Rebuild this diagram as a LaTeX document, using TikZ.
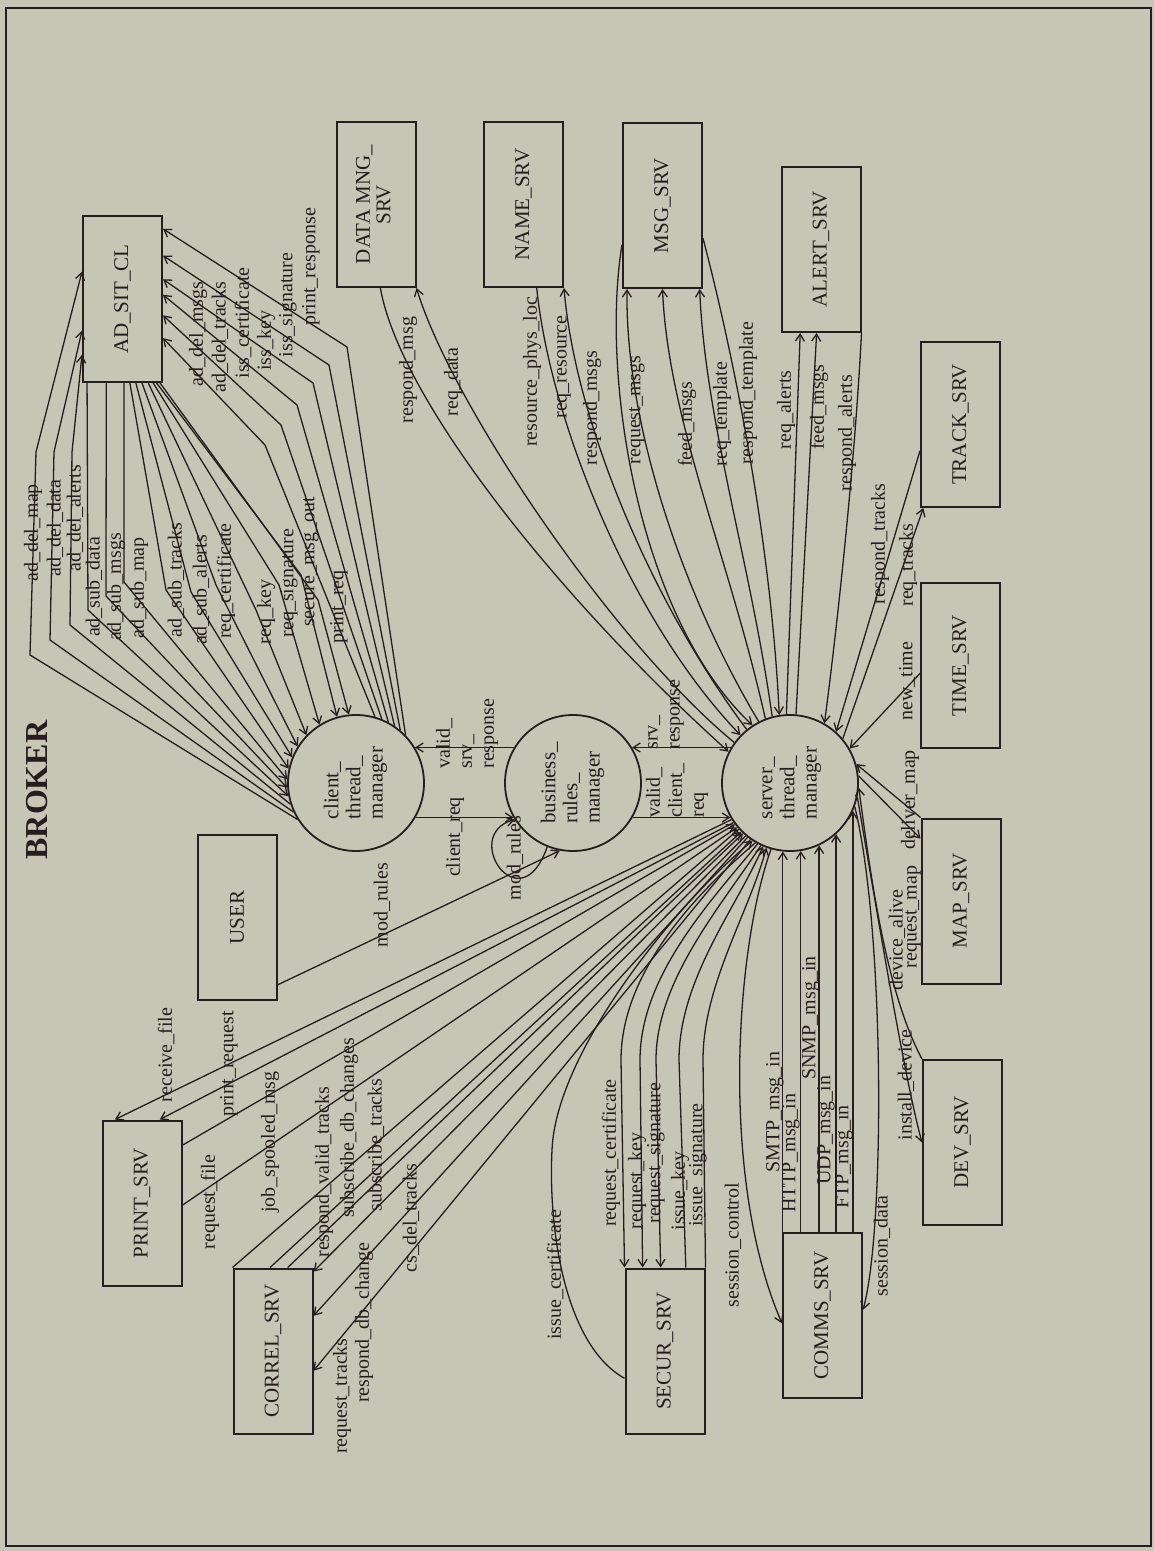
\documentclass[tikz,border=0pt]{standalone}
\usepackage{fontspec}
\setmainfont{Liberation Serif}
\usepackage{graphicx}
\usetikzlibrary{arrows.meta}

\definecolor{paper}{RGB}{199,197,182}
\definecolor{ink}{RGB}{38,30,30}

\newcommand{\vtxt}[1]{\rotatebox{90}{#1}}
\newcommand{\vtab}[2]{\rotatebox{90}{\def\arraystretch{0.85}\begin{tabular}{@{}#1@{}}#2\end{tabular}}}

\tikzset{
  box/.style={draw=ink, line width=1pt, minimum width=39.5pt, minimum height=82.5pt, inner sep=0pt, text=ink, font=\fontsize{10.5}{12}\selectfont},
  proc/.style={circle, draw=ink, line width=0.9pt, minimum size=68pt, inner sep=0pt, text=ink, font=\fontsize{10.5}{13}\selectfont},
  flow/.style={draw=ink, line width=0.65pt, -{Straight Barb[length=3.5pt,width=4.5pt]}},
  lab/.style={rotate=90, inner sep=0pt, text=ink, font=\fontsize{10}{11}\selectfont},
}

\begin{document}
\begin{tikzpicture}[x=0.5pt,y=-0.5pt]

	\fill[paper] (0,0) rectangle (1154,1551);
	\useasboundingbox (0,0) rectangle (1154,1551);
	\draw[ink, line width=0.9pt] (6,8) rectangle (1151,1546);

	\node[rotate=90, text=ink, font=\fontsize{16}{18}\selectfont\bfseries] (title) at (37,790) {BROKER};

	\node[box] (adsit) at (122.5,299) {\vtxt{AD\_SIT\_CL}};
	\node[box] (datamng) at (376,204.5) {\vtab{c}{DATA MNG\_\\SRV}};
	\node[box] (namesrv) at (523.5,204.5) {\vtxt{NAME\_SRV}};
	\node[box] (msgsrv) at (662.5,205.5) {\vtxt{MSG\_SRV}};
	\node[box] (alertsrv) at (821,249.5) {\vtxt{ALERT\_SRV}};
	\node[box] (tracksrv) at (960.5,424.5) {\vtxt{TRACK\_SRV}};
	\node[box] (timesrv) at (960.5,665.5) {\vtxt{TIME\_SRV}};
	\node[box] (mapsrv) at (961,901) {\vtxt{MAP\_SRV}};
	\node[box] (devsrv) at (962.5,1142.5) {\vtxt{DEV\_SRV}};
	\node[box] (commssrv) at (822.5,1315.5) {\vtxt{COMMS\_SRV}};
	\node[box] (secursrv) at (665,1351) {\vtxt{SECUR\_SRV}};
	\node[box] (correlsrv) at (273,1351) {\vtxt{CORREL\_SRV}};
	\node[box] (printsrv) at (142,1203) {\vtxt{PRINT\_SRV}};
	\node[box] (user) at (237,917.5) {\vtxt{USER}};

	\node[proc] (cl) at (356,783) {\vtab{l}{client\_\\thread\_\\manager}};
	\node[proc] (brm) at (573,783) {\vtab{l}{business\_\\rules\_\\manager}};
	\node[proc] (sv) at (790,783) {\vtab{l}{server\_\\thread\_\\manager}};

	\draw[flow] (cl.-30) -- (brm.-150);
	\draw[flow] (brm.149) -- (cl.31);
	\draw[flow] (brm.-30) -- (sv.-150);
	\draw[flow] (sv.149) -- (brm.31);
	\draw[flow] (user.-59) -- (brm.-101);
	\draw[flow] (brm.-112) .. controls (520,925) and (460,835) .. (brm.-148);

	\node[lab] (l-creq) at (455,837) {client\_req};
	\node[lab, align=left, anchor=west] (l-vsr) at (467,769) {valid\_\\srv\_\\response};
	\node[lab, align=left, anchor=west] (l-vcr) at (677,818) {valid\_\\client\_\\req};
	\node[lab, align=left, anchor=west] (l-sr) at (666,750) {srv\_\\response};
	\node[lab] (l-mod) at (382,905) {mod\_rules};
	\node[lab] (l-modloop) at (515,858) {mod\_rules};

	\draw[flow] (cl.212) -- (30,655) -- (36,452) -- (adsit.146);
	\draw[flow] (cl.205) -- (50,640) -- (54,452) -- (adsit.218);
	\draw[flow] (cl.198) -- (70,625) -- (72,452) -- (adsit.234);
	\draw[flow] (adsit.-113) -- (88,610) -- (cl.191);
	\draw[flow] (adsit.-101) -- (106,596) -- (cl.184);
	\draw[flow] (adsit.-89) -- (124,582) -- (cl.177);
	\draw[flow] (adsit.-85) -- (166,590) -- (cl.168);
	\draw[flow] (adsit.-81) -- (191,592) -- (cl.158);
	\draw[flow] (adsit.-77) -- (216,585) -- (cl.148);
	\draw[flow] (adsit.-73) -- (256,610) -- (cl.136);
	\draw[flow] (adsit.-70) -- (279,585) -- (cl.122);
	\draw[flow] (adsit.-68) -- (301,575) -- (cl.106);
	\draw[flow] (adsit.-66) -- (318,600) -- (cl.96);

	\draw[flow] (cl.74) -- (265,445) -- (adsit.-44);
	\draw[flow] (cl.68) -- (281,425) -- (adsit.-22);
	\draw[flow] (cl.62) -- (297,405) -- (adsit.6);
	\draw[flow] (cl.56) -- (313,383) -- (adsit.26);
	\draw[flow] (cl.50) -- (329,365) -- (adsit.47);
	\draw[flow] (cl.44) -- (347,347) -- (adsit.60);

	\node[lab] (l-adm) at (33,533) {ad\_del\_map};
	\node[lab] (l-add) at (55,528) {ad\_del\_data};
	\node[lab] (l-ada) at (75,518) {ad\_del\_alerts};
	\node[lab] (l-asd) at (94,587) {ad\_sub\_data};
	\node[lab] (l-asm) at (116,587) {ad\_sub\_msgs};
	\node[lab] (l-asp) at (139,588) {ad\_sub\_map};
	\node[lab] (l-ast) at (176,580) {ad\_sub\_tracks};
	\node[lab] (l-asa) at (201,590) {ad\_sub\_alerts};
	\node[lab] (l-rc) at (226,581) {req\_certificate};
	\node[lab] (l-rk) at (266,612) {req\_key};
	\node[lab] (l-rs) at (289,583) {req\_signature};
	\node[lab] (l-smo) at (311,562) {secure\_msg\_out};
	\node[lab] (l-pr) at (339,607) {print\_req};
	\node[lab] (l-adms) at (198,334) {ad\_del\_msgs};
	\node[lab] (l-adt) at (220,337) {ad\_del\_tracks};
	\node[lab] (l-ic) at (243,323) {iss\_certificate};
	\node[lab] (l-ik) at (266,341) {iss\_key};
	\node[lab] (l-is) at (288,305) {iss\_signature};
	\node[lab] (l-prs) at (311,267) {print\_response};

	\draw[flow] (datamng.-87) .. controls (400,400) and (560,600) .. (sv.153);
	\draw[flow] (sv.144) .. controls (610,640) and (450,400) .. (datamng.south east);
	\draw[flow] (namesrv.-81) .. controls (550,420) and (630,620) .. (sv.136);
	\draw[flow] (sv.129) .. controls (650,600) and (575,420) .. (namesrv.south east);
	\draw[flow] (msgsrv.224) .. controls (600,380) and (640,620) .. (sv.123);
	\draw[flow] (sv.117) .. controls (680,590) and (625,420) .. (msgsrv.-113);
	\draw[flow] (sv.111) .. controls (730,560) and (668,420) .. (msgsrv.-90);
	\draw[flow] (sv.105) .. controls (750,560) and (705,420) .. (msgsrv.-66);
	\draw[flow] (msgsrv.-39) .. controls (740,380) and (772,560) .. (sv.99);
	\draw[flow] (sv.93) -- (alertsrv.-104);
	\draw[flow] (sv.85) -- (alertsrv.-93);
	\draw[flow] (alertsrv.south east) .. controls (855,460) and (838,620) .. (sv.60);
	\draw[flow] (tracksrv.213) -- (sv.48);
	\draw[flow] (sv.40) -- (tracksrv.-114);
	\draw[flow] (timesrv.191) -- (sv.30);
	\draw[flow] (mapsrv.north west) -- (sv.16);
	\draw[flow] (sv.6) -- (mapsrv.123);
	\draw[flow] (devsrv.north west) .. controls (885,990) and (870,870) .. (sv.-4);
	\draw[flow] (sv.-12) .. controls (880,930) and (905,1080) .. (devsrv.180);

	\node[lab] (l-rm) at (408,370) {respond\_msg};
	\node[lab] (l-rd) at (453,382) {req\_data};
	\node[lab] (l-rpl) at (532,372) {resource\_phys\_loc};
	\node[lab] (l-rr) at (564,367) {req\_resource};
	\node[lab] (l-rms) at (592,408) {respond\_msgs};
	\node[lab] (l-qm) at (637,410) {request\_msgs};
	\node[lab] (l-fm) at (687,424) {feed\_msgs};
	\node[lab] (l-rt) at (722,414) {req\_template};
	\node[lab] (l-rst) at (748,393) {respond\_template};
	\node[lab] (l-ra) at (786,410) {req\_alerts};
	\node[lab] (l-fm2) at (819,407) {feed\_msgs};
	\node[lab] (l-rsa) at (847,433) {respond\_alerts};
	\node[lab] (l-rtr) at (880,544) {respond\_tracks};
	\node[lab] (l-qtr) at (908,565) {req\_tracks};
	\node[lab] (l-nt) at (907,681) {new\_time};
	\node[lab] (l-dm) at (910,800) {deliver\_map};
	\node[lab] (l-qmap) at (913,917) {request\_map};
	\node[lab] (l-da) at (897,940) {device\_alive};
	\node[lab] (l-id) at (906,1085) {install\_device};

	\draw[flow] (sv.264 |- commssrv.north) -- (sv.264);
	\draw[flow] (sv.-81.5 |- commssrv.north) -- (sv.-81.5);
	\draw[flow] (sv.-65.7 |- commssrv.north) -- (sv.-65.7);
	\draw[flow] (sv.-48.6 |- commssrv.north) -- (sv.-48.6);
	\draw[flow] (sv.-24.3 |- commssrv.north) -- (sv.-24.3);
	\draw[flow] (sv.-106) .. controls (735,950) and (720,1180) .. (commssrv.191);
	\draw[flow] (sv.-20) .. controls (885,930) and (885,1230) .. (commssrv.8);

	\node[lab] (l-smtp) at (775,1112) {SMTP\_msg\_in};
	\node[lab] (l-http) at (791,1153) {HTTP\_msg\_in};
	\node[lab] (l-snmp) at (811,1018) {SNMP\_msg\_in};
	\node[lab] (l-udp) at (826,1130) {UDP\_msg\_in};
	\node[lab] (l-ftp) at (844,1157) {FTP\_msg\_in};
	\node[lab] (l-sc) at (733,1245) {session\_control};
	\node[lab] (l-sd) at (882,1246) {session\_data};

	\draw[flow] (secursrv.214) .. controls (565,1345) and (548,1230) .. (552,1150) .. controls (556,1050) and (680,900) .. (sv.-123);
	\draw[flow] (sv.-120.5) .. controls (700,890) and (621,970) .. (621,1060) -- (secursrv.north west);
	\draw[flow] (sv.-118) .. controls (712,900) and (640,975) .. (640,1060) -- (secursrv.105);
	\draw[flow] (sv.-115.5) .. controls (722,905) and (656,980) .. (656,1060) -- (secursrv.93);
	\draw[flow] (secursrv.76) -- (679,1060) .. controls (679,980) and (735,910) .. (sv.-113);
	\draw[flow] (secursrv.north east) -- (703,1060) .. controls (703,985) and (748,915) .. (sv.-110.5);

	\node[lab] (l-isc) at (555,1275) {issue\_certificate};
	\node[lab] (l-qc) at (611,1153) {request\_certificate};
	\node[lab] (l-qk) at (637,1181) {request\_key};
	\node[lab] (l-qs) at (656,1153) {request\_signature};
	\node[lab] (l-isk) at (680,1191) {issue\_key};
	\node[lab] (l-iss) at (698,1165) {issue\_signature};

	\draw[flow] (correlsrv.north west) -- (sv.-138);
	\draw[flow] (correlsrv.92) -- (sv.-135.5);
	\draw[flow] (correlsrv.80) -- (sv.-133);
	\draw[flow] (sv.-130.5) -- (correlsrv.63);
	\draw[flow] (sv.-128) -- (correlsrv.41);
	\draw[flow] (sv.-125.5) -- (correlsrv.-26);

	\node[lab] (l-rvt) at (324,1172) {respond\_valid\_tracks};
	\node[lab] (l-sdc) at (349,1128) {subscribe\_db\_changes};
	\node[lab] (l-st) at (376,1145) {subscribe\_tracks};
	\node[lab] (l-qt) at (342,1396) {request\_tracks};
	\node[lab] (l-rdc) at (364,1323) {respond\_db\_change};
	\node[lab] (l-cdt) at (411,1218) {cs\_del\_tracks};

	\draw[flow] (sv.-148) -- (printsrv.108);
	\draw[flow] (sv.-145.5) -- (printsrv.78);
	\draw[flow] (printsrv.55) -- (sv.-143);
	\draw[flow] (printsrv.-3) -- (sv.-140.5);

	\node[lab] (l-rf) at (166,1055) {receive\_file};
	\node[lab] (l-preq) at (229,1064) {print\_request};
	\node[lab] (l-qf) at (210,1202) {request\_file};
	\node[lab] (l-js) at (270,1142) {job\_spooled\_msg};

\end{tikzpicture}
\end{document}
